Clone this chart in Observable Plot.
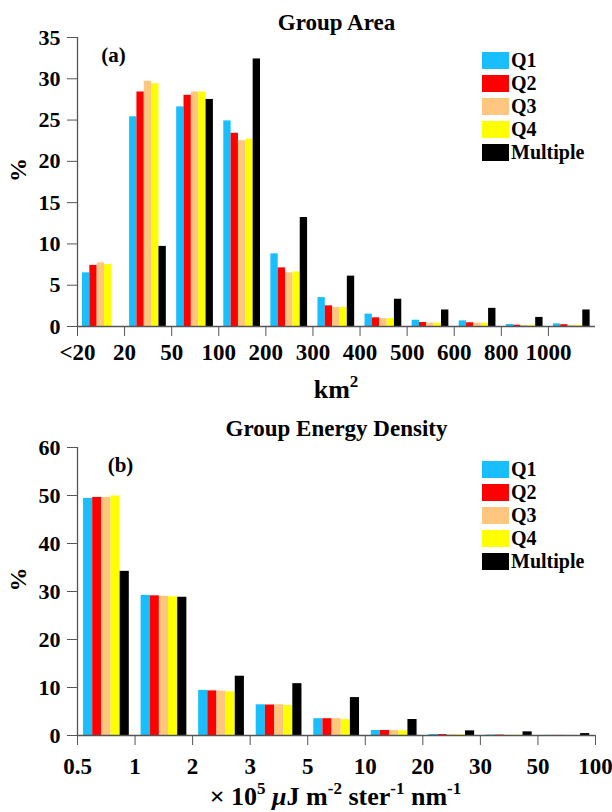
<!DOCTYPE html>
<html>
<head>
<meta charset="utf-8">
<script src="https://cdn.jsdelivr.net/npm/d3@7"></script>
<script src="https://cdn.jsdelivr.net/npm/@observablehq/plot@0.6"></script>
<style>
  body { margin: 0; background: white; }
  #wrap { position: relative; width: 612px; height: 812px; background: white; overflow: hidden;
          font-family: "Liberation Serif", "DejaVu Serif", serif; font-weight: bold; color: black; }
  .abs { position: absolute; }
  .legend-row { position: absolute; display: flex; align-items: center; font-size: 20px; line-height: 20px; }
  .sw { width: 27px; height: 17px; margin-right: 2px; }
  .xlab { position: absolute; text-align: center; font-size: 26px; line-height: 26px; white-space: nowrap; }
  .xlab sup { font-size: 17px; vertical-align: 11px; line-height: 0; }
</style>
</head>
<body>
<div id="wrap">
  <div id="top" class="abs" style="left:0;top:0"></div>
  <div id="bot" class="abs" style="left:0;top:400px"></div>
  <div class="xlab" style="left:77px;width:518px;top:377px">km<sup>2</sup></div>
  <div class="xlab" style="left:77px;width:517px;top:784px">&times; 10<sup>5</sup> <i>&mu;</i>J m<sup>-2</sup> ster<sup>-1</sup> nm<sup>-1</sup></div>
</div>
<script>
// ---------- data ----------
const seriesNames = ["Q1", "Q2", "Q3", "Q4", "Multiple"];
const seriesColors = ["#19BEFC", "#FF0000", "#FFC680", "#FFFF00", "#000000"];

const areaBins = ["<20", "20", "50", "100", "200", "300", "400", "500", "600", "800", "1000"];
const areaQ1 = [6.5, 25.4, 26.6, 24.9, 8.8, 3.5, 1.5, 0.76, 0.68, 0.24, 0.32];
const areaQ2 = [7.4, 28.4, 28.0, 23.4, 7.1, 2.5, 1.05, 0.48, 0.45, 0.16, 0.22];
const areaQ3 = [7.7, 29.7, 28.4, 22.5, 6.5, 2.3, 0.95, 0.4, 0.4, 0.12, 0.12];
const areaQ4 = [7.5, 29.4, 28.4, 22.7, 6.6, 2.3, 0.95, 0.4, 0.4, 0.12, 0.12];
const areaMultiple = [0, 9.7, 27.5, 32.4, 13.2, 6.1, 3.3, 2.0, 2.2, 1.1, 2.0];
const areaTicksY = [0, 5, 10, 15, 20, 25, 30, 35];

const energyBins = ["0.5", "1", "2", "3", "5", "10", "20", "30", "50", "100"];
const energyQ1 = [49.4, 29.2, 9.4, 6.4, 3.5, 1.05, 0.2, 0.1, 0.02];
const energyQ2 = [49.6, 29.1, 9.3, 6.35, 3.5, 1.05, 0.2, 0.1, 0.02];
const energyQ3 = [49.6, 29.0, 9.25, 6.4, 3.5, 1.05, 0.15, 0.05, 0.01];
const energyQ4 = [49.9, 28.9, 9.1, 6.25, 3.3, 0.97, 0.15, 0.05, 0.01];
const energyMultiple = [34.2, 28.8, 12.35, 10.8, 7.9, 3.33, 0.97, 0.76, 0.4];
const energyTicksY = [0, 10, 20, 30, 40, 50, 60];

const FONT = "'Liberation Serif', 'DejaVu Serif', serif";

// ---------- helpers ----------
function buildRows(seriesValues, offset, width) {
  const rows = [];
  seriesValues.forEach((vals, k) => {
    vals.forEach((v, g) => {
      rows.push({series: seriesNames[k], value: v, x1: g + offset + k * width, x2: g + offset + (k + 1) * width});
    });
  });
  return rows;
}

function makeChart({rows, nGroups, bins, yMax, yTicks, height, marginTop, marginBottom, title, titleDy, tag, tagDx, tagDy, tickPadX}) {
  return Plot.plot({
    width: 612,
    height,
    marginLeft: 77,
    marginRight: 17,
    marginTop,
    marginBottom,
    style: {fontFamily: FONT, fontSize: "21px", fontWeight: "bold", color: "black", background: "white", overflow: "visible"},
    x: {domain: [0, nGroups], axis: null},
    y: {domain: [0, yMax], axis: null},
    color: {domain: seriesNames, range: seriesColors},
    marks: [
      Plot.rectY(rows, {x1: "x1", x2: "x2", y: "value", fill: "series", inset: 0}),
      Plot.axisY({ticks: yTicks, tickSize: 10, tickPadding: 7, label: null, stroke: "#555", fill: "black", fontSize: 22, fontFamily: FONT}),
      Plot.axisX({ticks: d3.range(bins.length), tickFormat: i => bins[i], tickSize: 10, tickPadding: tickPadX, label: null, stroke: "#555", fill: "black", fontSize: 23, fontFamily: FONT}),
      Plot.ruleY([0], {stroke: "#555", strokeWidth: 1.3}),
      Plot.ruleX([0], {stroke: "#555", strokeWidth: 1.3}),
      Plot.text([title], {frameAnchor: "top", dy: titleDy, fontSize: 23, fontWeight: "bold", lineAnchor: "middle", fontFamily: FONT}),
      Plot.text([tag], {frameAnchor: "top-left", dx: tagDx, dy: tagDy, fontSize: 21, fontWeight: "bold", textAnchor: "middle", lineAnchor: "middle", fontFamily: FONT}),
      Plot.text(["%"], {frameAnchor: "left", dx: -59, rotate: -90, fontSize: 24, fontWeight: "bold", lineAnchor: "middle", fontFamily: FONT})
    ]
  });
}

function addLegend(top) {
  const wrap = document.getElementById("wrap");
  seriesNames.forEach((name, k) => {
    const row = document.createElement("div");
    row.className = "legend-row";
    row.style.left = "482px";
    row.style.top = (top + k * 23) + "px";
    const sw = document.createElement("div");
    sw.className = "sw";
    sw.style.background = seriesColors[k];
    const t = document.createElement("span");
    t.textContent = name;
    row.appendChild(sw);
    row.appendChild(t);
    wrap.appendChild(row);
  });
}

// ---------- charts ----------
const areaRows = buildRows([areaQ1, areaQ2, areaQ3, areaQ4, areaMultiple], 0.106, 0.156);
document.getElementById("top").appendChild(makeChart({
  rows: areaRows, nGroups: 11, bins: areaBins, yMax: 35, yTicks: areaTicksY,
  height: 400, marginTop: 37, marginBottom: 74,
  title: "Group Area", titleDy: -15, tag: "(a)", tagDx: 36, tagDy: 18, tickPadX: 7
}));

const energyRows = buildRows([energyQ1, energyQ2, energyQ3, energyQ4, energyMultiple], 0.105, 0.159);
document.getElementById("bot").appendChild(makeChart({
  rows: energyRows, nGroups: 9, bins: energyBins, yMax: 60, yTicks: energyTicksY,
  height: 412, marginTop: 47, marginBottom: 77,
  title: "Group Energy Density", titleDy: -19, tag: "(b)", tagDx: 43, tagDy: 18, tickPadX: 12
}));

addLegend(50);
addLegend(459);
</script>
</body>
</html>
